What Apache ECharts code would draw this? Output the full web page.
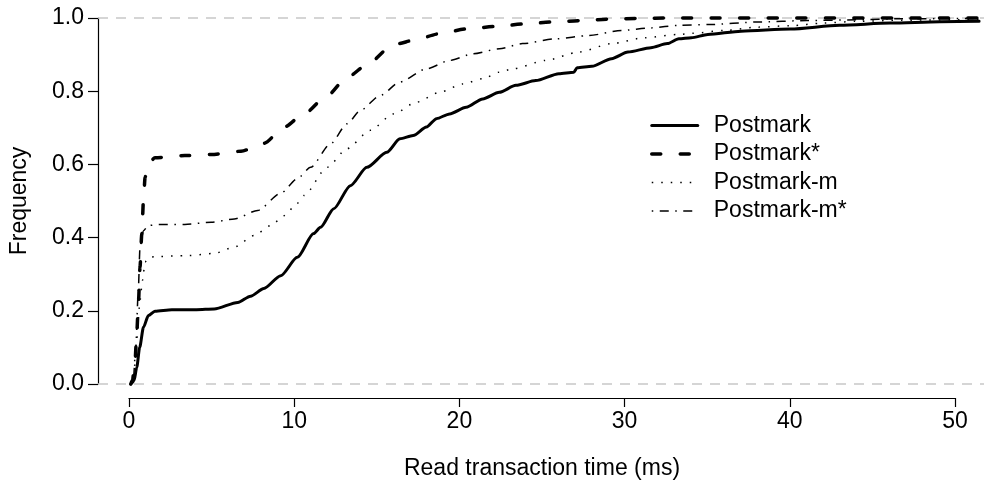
<!DOCTYPE html>
<html>
<head>
<meta charset="utf-8">
<script src="https://cdn.jsdelivr.net/npm/echarts@6/dist/echarts.min.js"></script>
<style>
  html, body { margin: 0; padding: 0; background: #fff; }
  #chart { width: 984px; height: 489px; }
</style>
</head>
<body>
<div id="chart"></div>
<script>
// Cumulative distribution of read transaction times, [ms, frequency]
const seriesNames = ['Postmark', 'Postmark*', 'Postmark-m', 'Postmark-m*'];

const postmark = [
  [0, 0], [0.06, 0.003], [0.2, 0.01], [0.36, 0.045], [0.54, 0.10], [0.77, 0.155],
  [1.07, 0.187], [1.47, 0.199], [2.5, 0.203], [4, 0.203], [5.08, 0.205], [6.52, 0.223],
  [7.3, 0.24], [8.11, 0.261], [9.14, 0.296], [10.15, 0.346], [11.14, 0.411], [11.56, 0.428],
  [12.37, 0.479], [13.38, 0.542], [14.39, 0.592], [15.6, 0.633], [16.4, 0.67], [17.21, 0.679],
  [18.02, 0.702], [18.63, 0.725], [19.43, 0.738], [20.44, 0.756], [21.45, 0.779], [22.46, 0.797],
  [23.47, 0.816], [24.68, 0.829], [26.09, 0.848], [27.0, 0.852], [27.2, 0.864], [28.1, 0.868],
  [29.3, 0.889], [30.3, 0.907], [31.7, 0.919], [32.7, 0.930], [33.4, 0.943], [34.16, 0.946],
  [35.17, 0.955], [37.2, 0.964], [40.2, 0.970], [43.2, 0.980], [46.3, 0.986], [49.3, 0.990],
  [51.7, 0.991]
];

const postmarkStar = [
  [0, 0], [0.1, 0.01], [0.26, 0.064], [0.36, 0.138], [0.47, 0.228], [0.56, 0.319],
  [0.67, 0.411], [0.77, 0.501], [0.87, 0.565], [1.07, 0.602], [1.47, 0.618], [3.29, 0.624],
  [4.9, 0.627], [6.72, 0.636], [8.13, 0.658], [9.34, 0.702], [10.55, 0.738], [11.97, 0.788],
  [13.18, 0.838], [14.49, 0.875], [15.7, 0.916], [16.3, 0.93], [17.21, 0.939], [18.83, 0.957],
  [20.44, 0.970], [22.26, 0.977], [24.07, 0.984], [25.68, 0.989], [27.5, 0.993], [29.1, 0.997],
  [30.9, 0.999], [33, 1.0], [51.7, 1.0]
];

const postmarkM = [
  [0, 0], [0.15, 0.01], [0.36, 0.119], [0.56, 0.228], [0.71, 0.283], [0.87, 0.333],
  [1.07, 0.346], [1.47, 0.348], [3.49, 0.351], [5.1, 0.357], [6.31, 0.374], [7.52, 0.406],
  [8.54, 0.433], [9.34, 0.46], [10.15, 0.494], [10.55, 0.515], [11.97, 0.592], [13.18, 0.643],
  [14.59, 0.693], [16.0, 0.738], [17.42, 0.770], [18.83, 0.797], [20.24, 0.820], [21.45, 0.834],
  [22.46, 0.852], [23.26, 0.861], [25.28, 0.884], [27.3, 0.907], [29.3, 0.930], [31.3, 0.946],
  [33.4, 0.955], [34.2, 0.958], [36.2, 0.966], [38.2, 0.975], [40.2, 0.979], [42.2, 0.986],
  [44.2, 0.991], [47, 0.994], [51.7, 0.996]
];

const postmarkMStar = [
  [0, 0], [0.15, 0.01], [0.3, 0.1], [0.45, 0.25], [0.56, 0.374], [0.77, 0.419],
  [1.07, 0.433], [1.68, 0.436], [3.29, 0.436], [4.9, 0.442], [6.31, 0.451], [7.73, 0.474],
  [9.14, 0.521], [10.15, 0.561], [10.96, 0.592], [12.17, 0.656], [13.18, 0.711], [13.98, 0.747],
  [15.19, 0.788], [16.4, 0.825], [18.02, 0.861], [19.43, 0.884], [20.84, 0.902], [22.46, 0.916],
  [23.87, 0.930], [25.89, 0.943], [27.9, 0.952], [29.9, 0.966], [31.7, 0.973], [33.4, 0.980],
  [35.2, 0.982], [38.2, 0.989], [41.2, 0.993], [44.2, 0.995], [47, 0.998], [51.7, 0.999]
];

// Axis ranges and ticks
const xTickStart = 0, xTickEnd = 50, xTickStep = 10;
const yTickStart = 0, yTickEnd = 1, yTickStep = 0.2;
const xPlotMin = -2, xPlotMax = 52;
const referenceLevels = [0, 1];

const FONT = '"Liberation Sans", Arial, Helvetica, sans-serif';
const FS = 23;

const lineStyles = [
  { color: '#000', width: 3, type: 'solid', cap: 'round', join: 'round' },
  { color: '#000', width: 3.5, type: [9, 19.5], cap: 'round', join: 'round' },
  { color: '#000', width: 1.5, type: [1.5, 8], cap: 'butt' },
  { color: '#000', width: 1.5, type: [1.5, 6.5, 9, 6.5], cap: 'butt' }
];
const datasets = [postmark, postmarkStar, postmarkM, postmarkMStar];

const series = datasets.map((d, i) => ({
  name: seriesNames[i],
  type: 'line',
  xAxisIndex: 0,
  yAxisIndex: 0,
  data: d,
  symbol: 'none',
  showSymbol: false,
  smooth: 0.25,
  smoothMonotone: 'x',
  clip: false,
  z: 3,
  lineStyle: lineStyles[i],
  emphasis: { disabled: true },
  animation: false
}));

// light dashed reference lines at 0 and 1
series[0].markLine = {
  silent: true,
  symbol: 'none',
  z: 1,
  label: { show: false },
  lineStyle: { color: '#c8c8c8', width: 1.5, type: [10, 8] },
  emphasis: { disabled: true },
  data: referenceLevels.map(v => ({ yAxis: v }))
};

const legendItems = seriesNames.map((n, i) => ({
  name: n,
  itemStyle: { opacity: 0, borderWidth: 0 },
  lineStyle: {
    color: '#000',
    width: lineStyles[i].width,
    type: lineStyles[i].type,
    cap: lineStyles[i].cap
  }
}));

const chart = echarts.init(document.getElementById('chart'), null, { renderer: 'canvas' });
chart.setOption({
  animation: false,
  backgroundColor: '#fff',
  textStyle: { fontFamily: FONT, color: '#000' },
  grid: [
    { left: 96, right: -4, top: 18, bottom: 105, containLabel: false },
    { left: 129, right: 29, top: 18, bottom: 91, containLabel: false }
  ],
  legend: {
    orient: 'vertical',
    left: 645,
    top: 109,
    itemWidth: 46,
    itemHeight: 20,
    itemGap: 5.5,
    selectedMode: false,
    data: legendItems,
    itemStyle: { opacity: 0, borderWidth: 0 },
    textStyle: { fontFamily: FONT, fontSize: FS, color: '#000', padding: [0, 0, 0, 11], lineHeight: 22 }
  },
  xAxis: [
    {
      gridIndex: 0, type: 'value', min: xPlotMin, max: xPlotMax, show: false
    },
    {
      gridIndex: 1, type: 'value', min: xTickStart, max: xTickEnd, interval: xTickStep,
      position: 'bottom',
      name: 'Read transaction time (ms)',
      nameLocation: 'middle',
      nameGap: 59,
      nameTextStyle: { fontFamily: FONT, fontSize: FS, color: '#000' },
      axisLine: { show: true, onZero: false, lineStyle: { color: '#000', width: 1.2 } },
      axisTick: { show: true, length: 9, lineStyle: { color: '#000', width: 1.2 } },
      axisLabel: { margin: 12, fontFamily: FONT, fontSize: FS, color: '#000' },
      splitLine: { show: false }
    }
  ],
  yAxis: [
    {
      gridIndex: 0, type: 'value', min: yTickStart, max: yTickEnd, interval: yTickStep,
      name: 'Frequency',
      nameLocation: 'middle',
      nameGap: 67,
      nameTextStyle: { fontFamily: FONT, fontSize: FS, color: '#000' },
      axisLine: { show: true, onZero: false, lineStyle: { color: '#000', width: 1.2 } },
      axisTick: { show: true, length: 10, lineStyle: { color: '#000', width: 1.2 } },
      axisLabel: {
        margin: 14, fontFamily: FONT, fontSize: FS, color: '#000',
        formatter: v => v.toFixed(1)
      },
      splitLine: { show: false }
    },
    {
      gridIndex: 1, type: 'value', min: 0, max: 1, show: false
    }
  ],
  series: series
});
</script>
</body>
</html>
